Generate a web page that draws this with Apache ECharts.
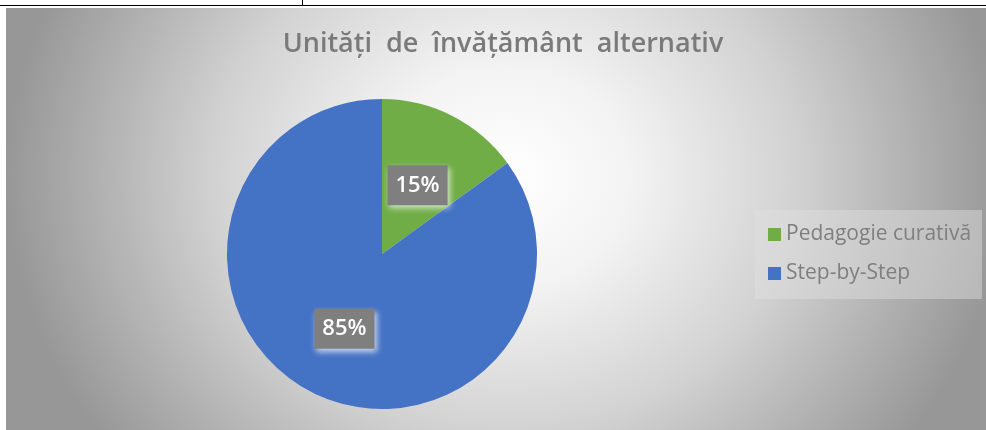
<!DOCTYPE html>
<html>
<head>
<meta charset="utf-8">
<script src="https://cdn.jsdelivr.net/npm/echarts@6/dist/echarts.min.js"></script>
<style>
  html, body { margin: 0; padding: 0; background: #fff; }
  .page { position: relative; width: 986px; height: 430px; overflow: hidden; }
  .topline { position: absolute; left: 0; top: 5px; width: 986px; height: 1px; background: #000; }
  .vline { position: absolute; left: 302px; top: 0; width: 1px; height: 6px; background: #000; }
  .bg {
    position: absolute; left: 6px; top: 8px; right: 0; bottom: 0;
    background: radial-gradient(500px 440px at 51% 40%, #ffffff 0%, #f3f3f3 25%, #d2d2d2 58%, #b0b0b0 82%, #979797 100%);
  }
  #main { position: absolute; left: 0; top: 0; width: 986px; height: 430px; }
</style>
</head>
<body>
<div class="page">
  <div class="topline"></div>
  <div class="vline"></div>
  <div class="bg"></div>
  <div id="main"></div>
</div>
<script>
  // date grafic
  const categories = ['Pedagogie curativă', 'Step-by-Step']
  const values = [15, 85]
  const colors = ['#70ad47', '#4472c4']

  const chart = echarts.init(document.getElementById('main'))
  const fontFamily = '"Open Sans", "DejaVu Sans", sans-serif'

  let seriesData = []
  for (let i = 0; i < categories.length; i++) {
    seriesData.push({ name: categories[i], value: values[i] })
  }

  const option = {
    backgroundColor: 'transparent',
    color: colors,
    title: {
      text: 'Unități  de  învățământ  alternativ',
      left: 498,
      top: 26,
      textAlign: 'center',
      textStyle: {
        fontFamily: fontFamily,
        fontSize: 27,
        fontWeight: 600,
        color: '#7a7a7a'
      }
    },
    legend: {
      orient: 'vertical',
      left: 755,
      top: 210,
      padding: [14, 11, 15, 13],
      itemGap: 18,
      itemWidth: 13,
      itemHeight: 13,
      icon: 'rect',
      backgroundColor: 'rgba(225,225,225,0.45)',
      textStyle: {
        fontFamily: fontFamily,
        fontSize: 21,
        color: '#7f7f7f'
      },
      data: categories
    },
    series: [{
      type: 'pie',
      center: [382, 254],
      radius: 155,
      startAngle: 90,
      clockwise: true,
      avoidLabelOverlap: false,
      label: {
        show: true,
        position: 'inside',
        formatter: '{d}%',
        offset: [-1, 3],
        fontFamily: fontFamily,
        fontSize: 22,
        fontWeight: 600,
        lineHeight: 24,
        color: '#fff',
        backgroundColor: '#7f7f7f',
        padding: [9, 8, 7, 8],
        shadowColor: 'rgba(255,255,255,0.7)',
        shadowBlur: 6,
        shadowOffsetX: 2,
        shadowOffsetY: 3
      },
      labelLine: { show: false },
      itemStyle: { borderWidth: 0 },
      emphasis: { disabled: true },
      data: seriesData
    }]
  }
  chart.setOption(option)
</script>
</body>
</html>
